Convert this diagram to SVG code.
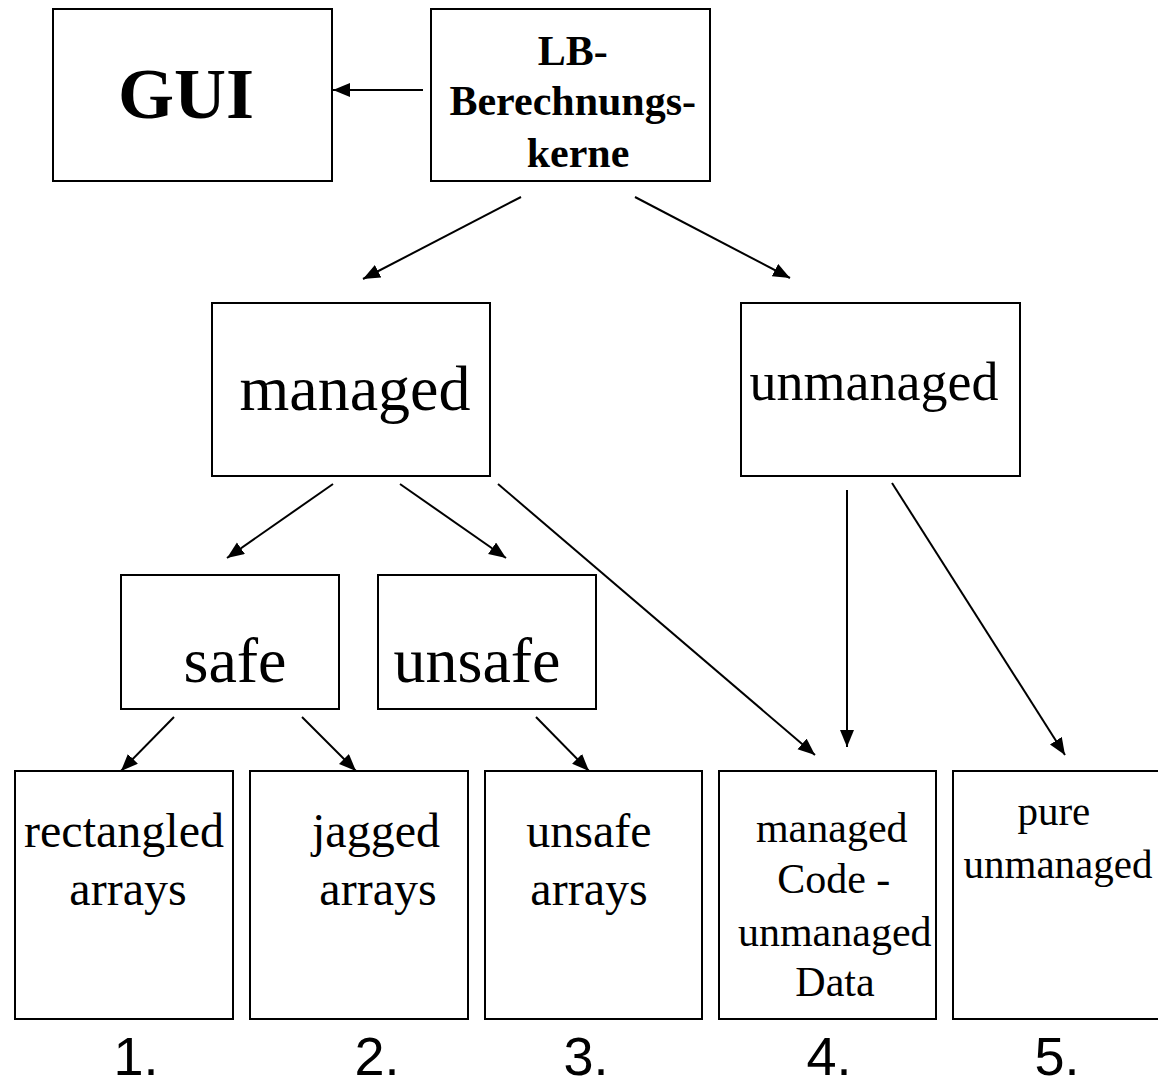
<svg xmlns="http://www.w3.org/2000/svg" width="1158" height="1087" viewBox="0 0 1158 1087">
  <style>
    .box { fill: #fff; stroke: #000; stroke-width: 2; }
    .edge { fill: none; stroke: #000; stroke-width: 2; marker-end: url(#arrow); }
    .serif { font-family: "Liberation Serif", "Times New Roman", serif; fill: #000; text-anchor: middle; }
    .bold { font-weight: bold; }
    .num { font-family: "Liberation Sans", Arial, sans-serif; font-size: 54px; fill: #000; text-anchor: middle; }
  </style>
  <defs>
    <marker id="arrow" markerUnits="userSpaceOnUse" markerWidth="18" markerHeight="15" refX="17" refY="7" orient="auto">
      <path d="M0,0 L17,7 L0,14 z" fill="#000"/>
    </marker>
  </defs>
  <rect width="1158" height="1087" fill="#fff"/>

  <g id="gui">
    <rect class="box" x="53" y="9" width="279" height="172"/>
    <text class="serif bold" x="186" y="118" font-size="72">GUI</text>
  </g>

  <g id="lb-kerne">
    <rect class="box" x="431" y="9" width="279" height="172"/>
    <text class="serif bold" font-size="42">
      <tspan x="578" y="65">LB-</tspan>
      <tspan x="578" y="115">Berechnungs-</tspan>
      <tspan x="578" y="167">kerne</tspan>
    </text>
  </g>

  <g id="managed">
    <rect class="box" x="212" y="303" width="278" height="173"/>
    <text class="serif" x="355" y="410" font-size="64">managed</text>
  </g>

  <g id="unmanaged">
    <rect class="box" x="741" y="303" width="279" height="173"/>
    <text class="serif" x="874" y="400" font-size="54">unmanaged</text>
  </g>

  <g id="safe">
    <rect class="box" x="121" y="575" width="218" height="134"/>
    <text class="serif" x="235" y="682" font-size="64">safe</text>
  </g>

  <g id="unsafe">
    <rect class="box" x="378" y="575" width="218" height="134"/>
    <text class="serif" x="477" y="682" font-size="64">unsafe</text>
  </g>

  <g id="rectangled-arrays">
    <rect class="box" x="15" y="771" width="218" height="248"/>
    <text class="serif" font-size="48">
      <tspan x="130" y="847">rectangled</tspan>
      <tspan x="128" y="905">arrays</tspan>
    </text>
  </g>

  <g id="jagged-arrays">
    <rect class="box" x="250" y="771" width="218" height="248"/>
    <text class="serif" font-size="48">
      <tspan x="382" y="847">jagged</tspan>
      <tspan x="378" y="905">arrays</tspan>
    </text>
  </g>

  <g id="unsafe-arrays">
    <rect class="box" x="485" y="771" width="217" height="248"/>
    <text class="serif" font-size="48">
      <tspan x="595" y="847">unsafe</tspan>
      <tspan x="589" y="905">arrays</tspan>
    </text>
  </g>

  <g id="managed-code-unmanaged-data">
    <rect class="box" x="719" y="771" width="217" height="248"/>
    <text class="serif" font-size="42">
      <tspan x="837" y="842">managed</tspan>
      <tspan x="839" y="893">Code -</tspan>
      <tspan x="840" y="946">unmanaged</tspan>
      <tspan x="835" y="996">Data</tspan>
    </text>
  </g>

  <g id="pure-unmanaged">
    <rect class="box" x="953" y="771" width="218" height="248"/>
    <text class="serif" font-size="41">
      <tspan x="1059" y="825">pure</tspan>
      <tspan x="1058" y="878">unmanaged</tspan>
    </text>
  </g>

  <g id="numbers">
    <text class="num" x="136" y="1075">1.</text>
    <text class="num" x="377" y="1075">2.</text>
    <text class="num" x="586" y="1075">3.</text>
    <text class="num" x="829" y="1075">4.</text>
    <text class="num" x="1057" y="1075">5.</text>
  </g>

  <g id="connectors">
    <line class="edge" x1="423" y1="90" x2="333" y2="90"/>
    <line class="edge" x1="521" y1="197" x2="363" y2="279"/>
    <line class="edge" x1="635" y1="197" x2="790" y2="278"/>
    <line class="edge" x1="333" y1="484" x2="227" y2="558"/>
    <line class="edge" x1="400" y1="484" x2="506" y2="558"/>
    <line class="edge" x1="498" y1="484" x2="815" y2="755"/>
    <line class="edge" x1="847" y1="490" x2="847" y2="747"/>
    <line class="edge" x1="892" y1="483" x2="1065" y2="755"/>
    <line class="edge" x1="174" y1="717" x2="121" y2="771"/>
    <line class="edge" x1="302" y1="717" x2="356" y2="771"/>
    <line class="edge" x1="536" y1="717" x2="589" y2="771"/>
  </g>
</svg>
